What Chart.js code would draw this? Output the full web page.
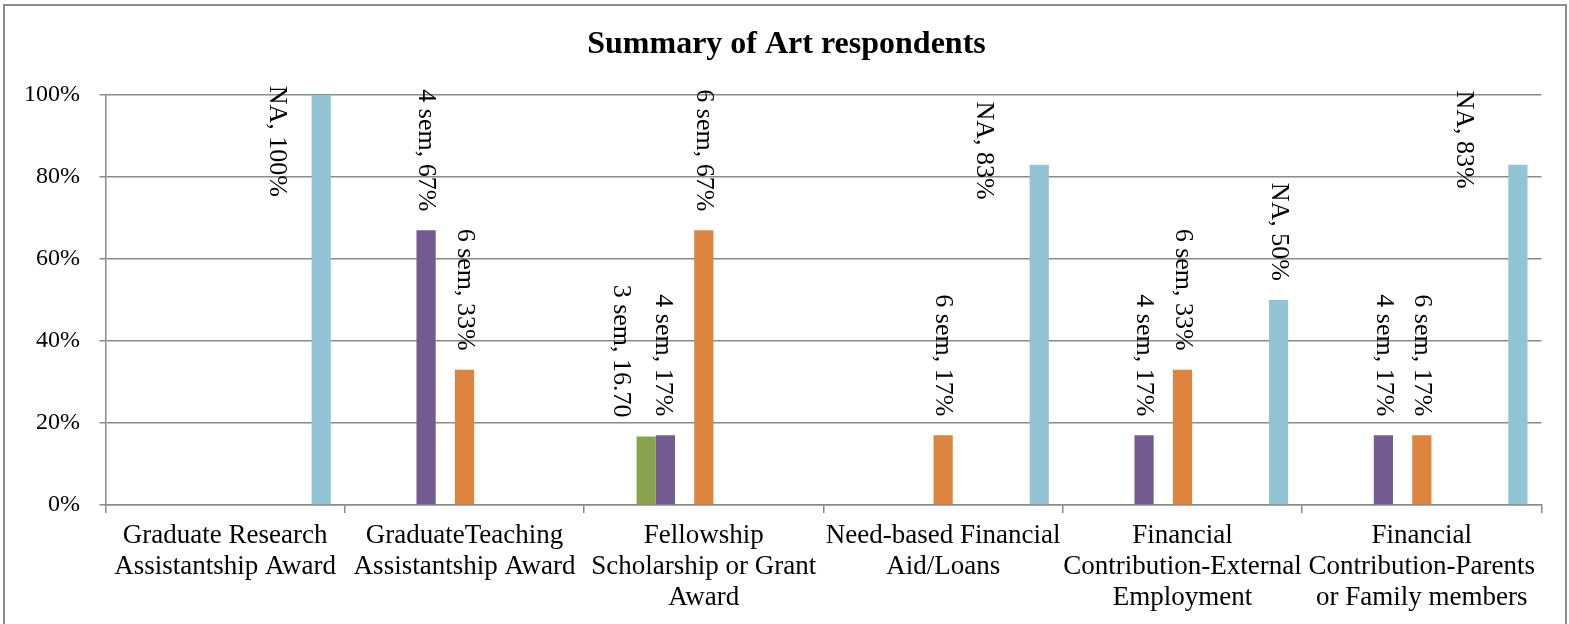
<!DOCTYPE html>
<html>
<head>
<meta charset="utf-8">
<title>Summary of Art respondents</title>
<script src="https://cdn.jsdelivr.net/npm/chart.js@4.4.1/dist/chart.umd.min.js"></script>
<style>
  html, body { margin: 0; padding: 0; background: #ffffff; }
  #wrap { width: 1569px; height: 624px; position: relative; }
</style>
</head>
<body>
<div id="wrap"><canvas id="chart" width="1569" height="624"></canvas></div>
<script>
// Funding sources, one group of bars each
const categories = [
  ['Graduate Research', 'Assistantship Award'],
  ['GraduateTeaching', 'Assistantship Award'],
  ['Fellowship', 'Scholarship or Grant', 'Award'],
  ['Need-based Financial', 'Aid/Loans'],
  ['Financial', 'Contribution-External', 'Employment'],
  ['Financial', 'Contribution-Parents', 'or Family members']
];

// Share of respondents (percent) per number of semesters funded
const sem1  = [null, null, null, null, null, null];
const sem2  = [null, null, null, null, null, null];
const sem3  = [null, null, 16.7, null, null, null];
const sem4  = [null, 67, 17, null, 17, 17];
const sem5  = [null, null, null, null, null, null];
const sem6  = [null, 33, 67, 17, 33, 17];
const sem7  = [null, null, null, null, null, null];
const sem8  = [null, null, null, null, null, null];
const sem9  = [null, null, null, null, null, null];
const sem10 = [null, null, null, null, null, null];
const notApplicable = [100, null, null, 83, 50, 83];

const yTicks = [0, 20, 40, 60, 80, 100];

const chartTitle = 'Summary of Art respondents';

const FONT = "'Liberation Serif', 'Times New Roman', serif";
const GRID = '#8a8a8a';

function series(label, data, color, fmt) {
  return { label, data, backgroundColor: color, borderWidth: 0, labelFormat: fmt || 'percent' };
}

const datasets = [
  series('1 sem', sem1, '#4F81BD'),
  series('2 sem', sem2, '#C0504D'),
  series('3 sem', sem3, '#88A24D', 'fixed2'),
  series('4 sem', sem4, '#735A91'),
  series('5 sem', sem5, '#4BACC6'),
  series('6 sem', sem6, '#DD843F'),
  series('7 sem', sem7, '#4F81BD'),
  series('8 sem', sem8, '#C0504D'),
  series('9 sem', sem9, '#9BBB59'),
  series('10 sem', sem10, '#8064A2'),
  series('NA', notApplicable, '#93C4D6')
];

// Vertical "series, value" labels above each bar; a few are moved aside
const labelNudges = {
  'NA|0': { dx: -44, dy: 121 },
  'NA|3': { dx: -55, dy: 54 },
  'NA|5': { dx: -54, dy: 43 },
  '3 sem|2': { dx: -25, dy: 0 },
  '4 sem|2': { dx: -3, dy: 0 }
};

const barLabels = {
  id: 'barLabels',
  afterDatasetsDraw(chart) {
    const ctx = chart.ctx;
    ctx.save();
    ctx.font = '26px ' + FONT;
    ctx.fillStyle = '#000000';
    ctx.textAlign = 'right';
    ctx.textBaseline = 'middle';
    chart.data.datasets.forEach((ds, di) => {
      const meta = chart.getDatasetMeta(di);
      meta.data.forEach((el, i) => {
        const v = ds.data[i];
        if (v === null || v === undefined) return;
        const txt = ds.label + ', ' + (ds.labelFormat === 'fixed2' ? v.toFixed(2) : v + '%');
        const n = labelNudges[ds.label + '|' + i] || { dx: 0, dy: 0 };
        ctx.save();
        ctx.translate(el.x + n.dx, el.y - 19 + n.dy);
        ctx.rotate(Math.PI / 2);
        ctx.fillText(txt, 0, 0);
        ctx.restore();
      });
    });
    ctx.restore();
  }
};

// Outer frame, background and the heading
const frame = {
  id: 'frame',
  beforeDraw(chart) {
    const ctx = chart.ctx;
    ctx.save();
    ctx.fillStyle = '#ffffff';
    ctx.fillRect(0, 0, chart.width, chart.height);
    ctx.strokeStyle = '#8c8c8c';
    ctx.lineWidth = 2;
    ctx.beginPath();
    ctx.moveTo(4, chart.height + 2);
    ctx.lineTo(4, 5);
    ctx.lineTo(1566, 5);
    ctx.lineTo(1566, chart.height + 2);
    ctx.stroke();
    ctx.restore();
  },
  afterDraw(chart) {
    const ctx = chart.ctx;
    ctx.save();
    ctx.font = 'bold 32px ' + FONT;
    ctx.fillStyle = '#000000';
    ctx.textAlign = 'center';
    ctx.textBaseline = 'middle';
    ctx.fillText(chartTitle, 786.5, 45);
    ctx.restore();
  }
};

new Chart(document.getElementById('chart'), {
  type: 'bar',
  data: { labels: categories, datasets },
  options: {
    responsive: false,
    animation: false,
    events: [],
    layout: { padding: { left: 0, right: 27.5, top: 95, bottom: 0 } },
    datasets: { bar: { categoryPercentage: 0.883, barPercentage: 1.0 } },
    plugins: {
      legend: { display: false },
      tooltip: { enabled: false },
      title: { display: false }
    },
    scales: {
      x: {
        grid: { offset: true, drawOnChartArea: false, color: GRID, lineWidth: 1.5, tickLength: 8 },
        border: { display: true, color: GRID, width: 1.5 },
        ticks: { color: '#000000', font: { family: FONT, size: 27, lineHeight: 1.15 }, padding: 7, maxRotation: 0, autoSkip: false },
        afterFit(scale) { scale.height = 119; }
      },
      y: {
        min: 0,
        max: 100,
        afterBuildTicks(scale) { scale.ticks = yTicks.map(v => ({ value: v })); },
        grid: { color: GRID, lineWidth: 1.5, tickLength: 6 },
        border: { display: true, color: GRID, width: 1.5 },
        ticks: { color: '#000000', font: { family: FONT, size: 24 }, padding: 19.5, callback: v => v + '%' },
        afterFit(scale) { scale.width = 105.5; }
      }
    }
  },
  plugins: [frame, barLabels]
});
</script>
</body>
</html>
